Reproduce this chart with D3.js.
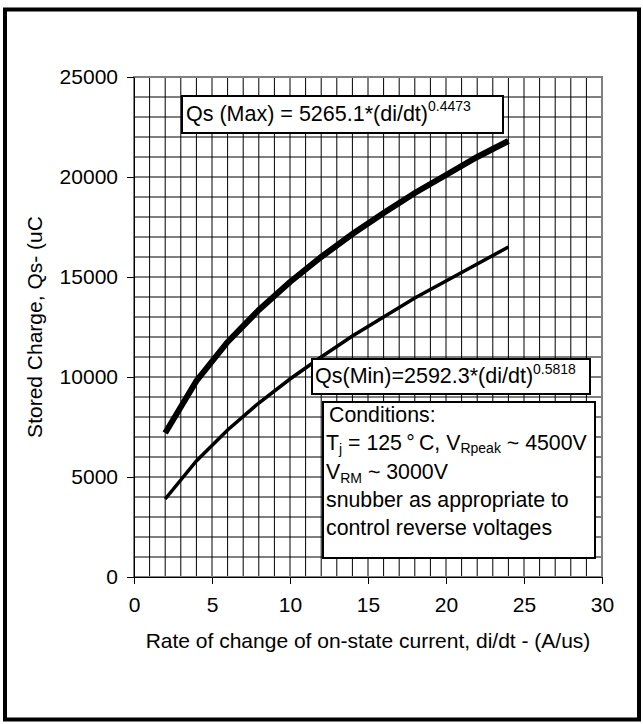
<!DOCTYPE html>
<html>
<head>
<meta charset="utf-8">
<script src="https://cdn.jsdelivr.net/npm/d3@7"></script>
<style>
  body { margin: 0; background: #fff; }
  text { font-family: "Liberation Sans", Arial, sans-serif; fill: #000; }
</style>
</head>
<body>
<svg width="643" height="724"></svg>
<script>
// values
const didt = [2, 4, 6, 8, 10, 12, 14, 16, 18, 20, 22, 24];
const qsMax = [7200, 9800, 11750, 13350, 14750, 16000, 17150, 18200, 19200, 20100, 21000, 21800];
const qsMin = [3900, 5800, 7350, 8700, 9900, 11000, 12050, 13000, 13950, 14800, 15650, 16500];
const xTicks = [0, 5, 10, 15, 20, 25, 30];
const yTicks = [0, 5000, 10000, 15000, 20000, 25000];

const svg = d3.select("svg");
const fs = "21px";

// outer frame
svg.append("rect")
  .attr("x", 5).attr("y", 9.5)
  .attr("width", 634).attr("height", 710)
  .attr("fill", "none").attr("stroke", "#000").attr("stroke-width", 4);

const plotL = 134, plotR = 602, plotT = 77, plotB = 577;

const x = d3.scaleLinear().domain([0, 30]).range([plotL, plotR]);
const y = d3.scaleLinear().domain([0, 25000]).range([plotB, plotT]);

// grid
const grid = svg.append("g").attr("stroke", "#000").attr("stroke-width", 1);
grid.selectAll(".v").data(d3.range(1, 30)).join("line")
  .attr("x1", d => x(d)).attr("x2", d => x(d))
  .attr("y1", plotT).attr("y2", plotB);
grid.selectAll(".h").data(d3.range(1000, 25000, 1000)).join("line")
  .attr("x1", plotL).attr("x2", plotR)
  .attr("y1", d => y(d)).attr("y2", d => y(d));

// plot area border
svg.append("rect")
  .attr("x", plotL).attr("y", plotT)
  .attr("width", plotR - plotL).attr("height", plotB - plotT)
  .attr("fill", "none").attr("stroke", "#808080").attr("stroke-width", 2);

// axes
const yAxis = svg.append("g")
  .attr("transform", `translate(${plotL},0)`)
  .call(d3.axisLeft(y).tickValues(yTicks).tickSize(7).tickSizeOuter(0).tickPadding(9).tickFormat(d3.format("d")));
const xAxis = svg.append("g")
  .attr("transform", `translate(0,${plotB})`)
  .call(d3.axisBottom(x).tickValues(xTicks).tickSize(7).tickSizeOuter(0).tickPadding(13));
[yAxis, xAxis].forEach(a => {
  a.select(".domain").attr("stroke", "#000");
  a.selectAll("text").attr("font-size", fs).attr("font-family", "Liberation Sans, Arial, sans-serif");
});

// curves
const line = (vals) => d3.line().x((d, i) => x(didt[i])).y(d => y(d))(vals);
svg.append("path").attr("d", line(qsMax))
  .attr("fill", "none").attr("stroke", "#000").attr("stroke-width", 6);
svg.append("path").attr("d", line(qsMin))
  .attr("fill", "none").attr("stroke", "#000").attr("stroke-width", 3.5);

// axis titles
svg.append("text")
  .attr("x", x(15)).attr("y", 648)
  .attr("text-anchor", "middle").attr("font-size", fs)
  .text("Rate of change of on-state current, di/dt - (A/us)");
svg.append("text")
  .attr("transform", `translate(42,${(plotT + plotB) / 2}) rotate(-90)`)
  .attr("text-anchor", "middle").attr("font-size", fs)
  .text("Stored Charge, Qs- (uC");

// annotation boxes
function box(bx, by, bw, bh) {
  svg.append("rect").attr("x", bx).attr("y", by).attr("width", bw).attr("height", bh)
    .attr("fill", "#fff").attr("stroke", "#000").attr("stroke-width", 2);
}

box(182, 96, 321, 37);
const t1 = svg.append("text").attr("x", 186).attr("y", 121).attr("font-size", "21.5px");
t1.append("tspan").text("Qs (Max) = 5265.1*(di/dt)");
t1.append("tspan").attr("dy", -10).attr("font-size", "14px").text("0.4473");

box(312, 359, 278, 35);
const t2 = svg.append("text").attr("x", 315).attr("y", 383).attr("font-size", "21.5px");
t2.append("tspan").text("Qs(Min)=2592.3*(di/dt)");
t2.append("tspan").attr("dy", -9).attr("font-size", "14px").text("0.5818");

box(323, 402, 272, 156);
const c = svg.append("g").attr("font-size", "21.3px");
c.append("text").attr("x", 329).attr("y", 422).text("Conditions:");
const tj = c.append("text").attr("x", 326).attr("y", 450);
tj.append("tspan").text("T");
tj.append("tspan").attr("dy", 4).attr("font-size", "14px").text("j");
tj.append("tspan").attr("dy", -4).text(" = 125\u2009°\u2009C, V");
tj.append("tspan").attr("dy", 3).attr("font-size", "14px").text("Rpeak");
tj.append("tspan").attr("dy", -3).text(" ~ 4500V");
const vrm = c.append("text").attr("x", 326).attr("y", 479);
vrm.append("tspan").text("V");
vrm.append("tspan").attr("dy", 4).attr("font-size", "14px").text("RM");
vrm.append("tspan").attr("dy", -4).text(" ~ 3000V");
c.append("text").attr("x", 326).attr("y", 507).text("snubber as appropriate to");
c.append("text").attr("x", 326).attr("y", 535).text("control reverse voltages");
</script>
</body>
</html>
